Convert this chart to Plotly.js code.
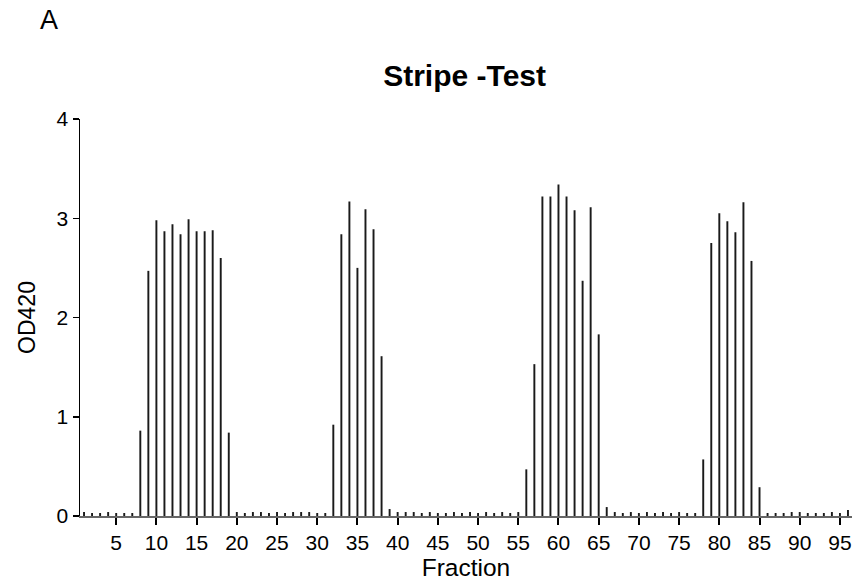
<!DOCTYPE html>
<html>
<head>
<meta charset="utf-8">
<script src="https://cdn.plot.ly/plotly-3.0.1.min.js"></script>
<style>html,body{margin:0;padding:0;background:#fff;}#chart{width:858px;height:588px;}</style>
</head>
<body>
<div id="chart"></div>
<script>
const fractions = Array.from({length: 96}, (_, i) => i + 1);
const od420 = [
  0.04, 0.03, 0.03, 0.04, 0.03, 0.03, 0.03, 0.86, 2.47, 2.98,
  2.87, 2.94, 2.84, 2.99, 2.87, 2.87, 2.88, 2.60, 0.84, 0.04,
  0.03, 0.04, 0.04, 0.03, 0.04, 0.03, 0.04, 0.04, 0.04, 0.03,
  0.03, 0.92, 2.84, 3.17, 2.50, 3.09, 2.89, 1.61, 0.07, 0.04,
  0.04, 0.04, 0.03, 0.04, 0.03, 0.03, 0.04, 0.03, 0.04, 0.03,
  0.04, 0.03, 0.04, 0.03, 0.04, 0.47, 1.53, 3.22, 3.22, 3.34,
  3.22, 3.08, 2.37, 3.11, 1.83, 0.09, 0.04, 0.03, 0.04, 0.03,
  0.04, 0.03, 0.04, 0.03, 0.04, 0.03, 0.03, 0.57, 2.75, 3.05,
  2.97, 2.86, 3.16, 2.57, 0.29, 0.03, 0.03, 0.03, 0.04, 0.04,
  0.03, 0.03, 0.03, 0.04, 0.03, 0.06
];
const xTickVals = [5, 10, 15, 20, 25, 30, 35, 40, 45, 50, 55, 60, 65, 70, 75, 80, 85, 90, 95];
const yTickVals = [0, 1, 2, 3, 4];

const trace = {
  type: 'bar',
  x: fractions,
  y: od420,
  width: 0.24,
  marker: {color: '#1a1a1a', line: {width: 0}},
  hoverinfo: 'x+y'
};

const font = 'Arial, "Liberation Sans", sans-serif';
const layout = {
  width: 858,
  height: 588,
  margin: {l: 80, r: 6, t: 119, b: 72, pad: 0},
  paper_bgcolor: '#fff',
  plot_bgcolor: '#fff',
  showlegend: false,
  font: {family: font, color: '#000', size: 21},
  title: {
    text: '<b>Stripe -Test</b>',
    font: {family: font, size: 30, color: '#000'},
    x: 0.5415, xanchor: 'center',
    y: 0.872, yanchor: 'middle'
  },
  xaxis: {
    range: [0.5, 96.5],
    tickmode: 'array',
    tickvals: xTickVals,
    ticktext: xTickVals.map(String),
    ticks: 'outside',
    ticklen: 7,
    tickwidth: 2,
    tickcolor: '#000',
    showline: true,
    linecolor: '#666',
    linewidth: 1.5,
    showgrid: false,
    zeroline: false,
    tickfont: {family: font, size: 21, color: '#000'},
    title: {text: 'Fraction', font: {family: font, size: 24.5, color: '#000'}, standoff: 2}
  },
  yaxis: {
    range: [0, 4],
    tickmode: 'array',
    tickvals: yTickVals,
    ticks: 'outside',
    ticklen: 6,
    tickwidth: 1.5,
    tickcolor: '#000',
    showline: true,
    linecolor: '#000',
    linewidth: 1.5,
    showgrid: false,
    zeroline: false,
    tickfont: {family: font, size: 21, color: '#000'},
    title: {text: 'OD420', font: {family: font, size: 23, color: '#000'}, standoff: 14}
  },
  annotations: [{
    text: 'A', xref: 'paper', yref: 'paper',
    x: -0.054, y: 1.25, xanchor: 'left', yanchor: 'middle',
    showarrow: false, font: {family: font, size: 27, color: '#000'}
  }]
};

Plotly.newPlot('chart', [trace], layout, {displayModeBar: false, staticPlot: true});
</script>
</body>
</html>
